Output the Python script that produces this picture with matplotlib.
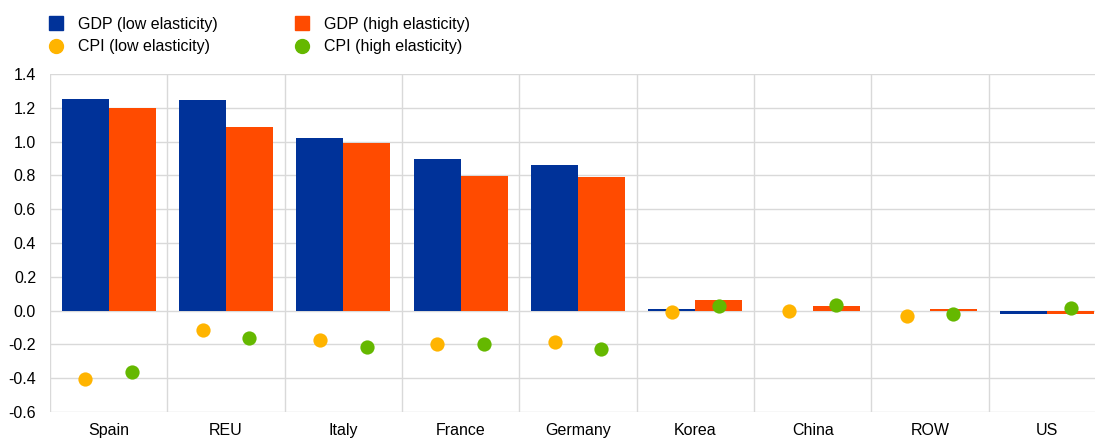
import matplotlib
matplotlib.use("Agg")
import matplotlib.pyplot as plt
from matplotlib.lines import Line2D
import numpy as np

plt.rcParams['font.family'] = ['Liberation Sans', 'DejaVu Sans']

categories = ["Spain", "REU", "Italy", "France", "Germany", "Korea", "China", "ROW", "US"]
gdp_low = [1.25, 1.245, 1.02, 0.895, 0.86, 0.008, 0.0, 0.0, -0.02]
gdp_high = [1.20, 1.085, 0.99, 0.795, 0.79, 0.064, 0.025, 0.012, -0.022]
cpi_low = [-0.405, -0.115, -0.175, -0.20, -0.185, -0.01, 0.0, -0.03, np.nan]
cpi_high = [-0.365, -0.165, -0.215, -0.195, -0.23, 0.028, 0.032, -0.018, 0.013]

BLUE = "#003299"
ORANGE = "#FF4B00"
YELLOW = "#FFB400"
GREEN = "#65B800"
GRID = "#d9d9d9"

fig = plt.figure(figsize=(10.95, 4.38), dpi=100)
ax = fig.add_axes([50/1095, 1-412/438, (1106-50)/1095, (412-74)/438])

x = np.arange(len(categories))
w = 0.4
ax.bar(x - w/2, gdp_low, w, color=BLUE, zorder=2)
ax.bar(x + w/2, gdp_high, w, color=ORANGE, zorder=2)
ax.scatter(x - w/2, cpi_low, s=105, color=YELLOW, zorder=3, linewidths=0)
ax.scatter(x + w/2, cpi_high, s=105, color=GREEN, zorder=3, linewidths=0)

ax.set_xlim(-0.5, len(categories) - 0.5)
ax.set_ylim(-0.6, 1.4)
yt = np.arange(-0.6, 1.41, 0.2)
ax.set_yticks(yt)
ax.set_yticklabels([f"{v:.1f}" for v in yt])
ax.set_xticks(x)
ax.set_xticklabels(categories)
ax.set_xticks(np.arange(-0.5, len(categories), 1), minor=True)
ax.grid(True, which='minor', axis='x', color=GRID, linewidth=1, zorder=0)
ax.grid(True, which='major', axis='y', color=GRID, linewidth=1, zorder=0)
ax.tick_params(axis='both', which='both', length=0, labelsize=11.5, colors='#000000')
ax.tick_params(axis='x', pad=8)
ax.tick_params(axis='y', pad=10)
for s in ax.spines.values():
    s.set_visible(False)

handles = [
    Line2D([], [], marker='s', color=BLUE, linestyle='none', markersize=10),
    Line2D([], [], marker='o', color=YELLOW, linestyle='none', markersize=10),
    Line2D([], [], marker='s', color=ORANGE, linestyle='none', markersize=10),
    Line2D([], [], marker='o', color=GREEN, linestyle='none', markersize=10),
]
labels = ["GDP (low elasticity)", "CPI (low elasticity)", "GDP (high elasticity)", "CPI (high elasticity)"]
fig.legend(handles, labels, loc='upper left', bbox_to_anchor=(48/1095, 1 - 17/438), ncol=2,
           frameon=False, fontsize=11.5, handlelength=1.0, handletextpad=0.9,
           columnspacing=4.75, labelspacing=0.45, borderaxespad=0, borderpad=0)

fig.savefig("out.png", dpi=100)
